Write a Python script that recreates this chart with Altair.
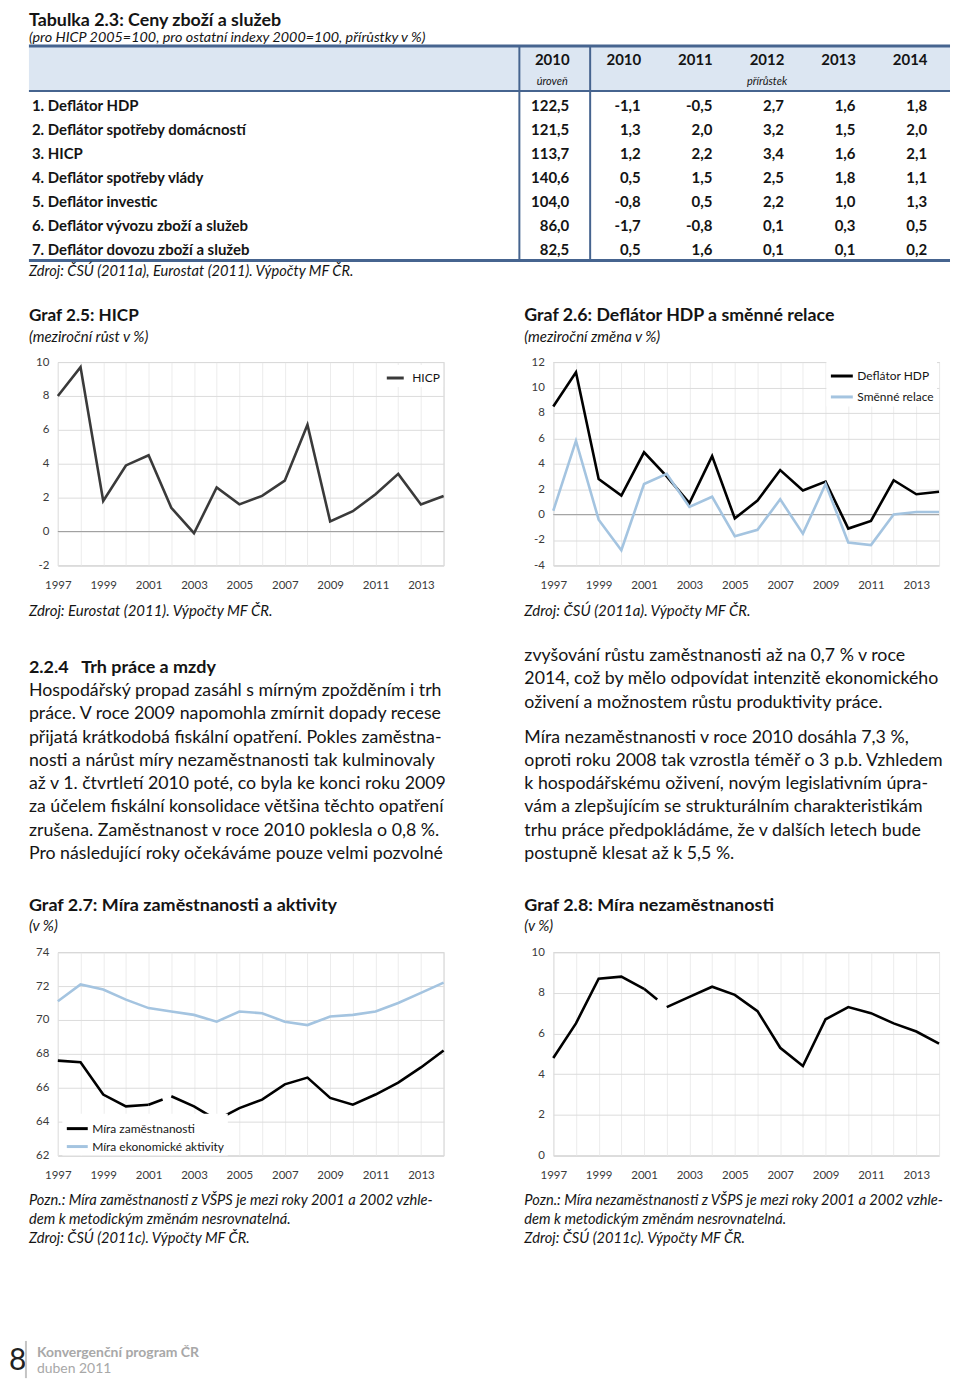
import altair as alt
import pandas as pd

FONT = "Lato"
INK = "#141414"
AXIS_INK = "#3a3a3a"
GRID_H = "#dcdcdc"
GRID_V = "#ececec"
FRAME = "#bdbdbd"
BLUE = "#a4c4e0"
TABLE_LINE = "#46648f"
HEADER_FILL = "#dce6f2"
FOOT = "#a8a8a8"

# ====================== DATA ======================
table_title = "Tabulka 2.3: Ceny zboží a služeb"
table_subtitle = "(pro HICP 2005=100, pro ostatní indexy 2000=100, přírůstky v %)"
table_source = "Zdroj: ČSÚ (2011a), Eurostat (2011). Výpočty MF ČR."
table_rows = ["1. Deflátor HDP", "2. Deflátor spotřeby domácností", "3. HICP",
              "4. Deflátor spotřeby vlády", "5. Deflátor investic",
              "6. Deflátor vývozu zboží a služeb", "7. Deflátor dovozu zboží a služeb"]
table_col_keys = ["lvl2010", "g2010", "g2011", "g2012", "g2013", "g2014"]
table_col_years = ["2010", "2010", "2011", "2012", "2013", "2014"]
table_sub_keys = ["lvl2010", "g2012"]
table_sub_labels = ["úroveň", "přírůstek"]
level_2010 = [122.5, 121.5, 113.7, 140.6, 104.0, 86.0, 82.5]
growth_2010 = [-1.1, 1.3, 1.2, 0.5, -0.8, -1.7, 0.5]
growth_2011 = [-0.5, 2.0, 2.2, 1.5, 0.5, -0.8, 1.6]
growth_2012 = [2.7, 3.2, 3.4, 2.5, 2.2, 0.1, 0.1]
growth_2013 = [1.6, 1.5, 1.6, 1.8, 1.0, 0.3, 0.1]
growth_2014 = [1.8, 2.0, 2.1, 1.1, 1.3, 0.5, 0.2]

years = list(range(1997, 2015))
years_old = list(range(1997, 2002))
years_new = list(range(2002, 2015))

g25_title = "Graf 2.5: HICP"
g25_subtitle = "(meziroční růst v %)"
g25_source = "Zdroj: Eurostat (2011). Výpočty MF ČR."
hicp = [8.0, 9.7, 1.8, 3.9, 4.5, 1.4, -0.1, 2.6, 1.6, 2.1, 3.0, 6.3, 0.6, 1.2, 2.2, 3.4, 1.6, 2.1]

g26_title = "Graf 2.6: Deflátor HDP a směnné relace"
g26_subtitle = "(meziroční změna v %)"
g26_source = "Zdroj: ČSÚ (2011a). Výpočty MF ČR."
deflator_hdp = [8.5, 11.2, 2.8, 1.5, 4.9, 3.0, 0.9, 4.6, -0.3, 1.1, 3.5, 1.9, 2.6, -1.1, -0.5, 2.7, 1.6, 1.8]
smenne_relace = [0.3, 5.8, -0.4, -2.8, 2.4, 3.2, 0.6, 1.4, -1.7, -1.2, 1.2, -1.5, 2.4, -2.2, -2.4, 0.0, 0.2, 0.2]

g27_title = "Graf 2.7: Míra zaměstnanosti a aktivity"
g27_subtitle = "(v %)"
g27_note = ["Pozn.: Míra zaměstnanosti z VŠPS je mezi roky 2001 a 2002 vzhle-",
            "dem k metodickým změnám nesrovnatelná.",
            "Zdroj: ČSÚ (2011c). Výpočty MF ČR."]
zamestnanost_old = [67.6, 67.5, 65.6, 64.9, 65.0]
zamestnanost_new = [65.5, 64.9, 64.1, 64.8, 65.3, 66.2, 66.6, 65.4, 65.0, 65.6, 66.3, 67.2, 68.2]
aktivita = [71.1, 72.1, 71.8, 71.2, 70.7, 70.5, 70.3, 69.9, 70.5, 70.4, 69.9, 69.7, 70.2, 70.3, 70.5, 71.0, 71.6, 72.2]

g28_title = "Graf 2.8: Míra nezaměstnanosti"
g28_subtitle = "(v %)"
g28_note = ["Pozn.: Míra nezaměstnanosti z VŠPS je mezi roky 2001 a 2002 vzhle-",
            "dem k metodickým změnám nesrovnatelná.",
            "Zdroj: ČSÚ (2011c). Výpočty MF ČR."]
nezamestnanost_old = [4.8, 6.5, 8.7, 8.8, 8.2]
nezamestnanost_new = [7.3, 7.8, 8.3, 7.9, 7.1, 5.3, 4.4, 6.7, 7.3, 7.0, 6.5, 6.1, 5.5]

section_heading = "2.2.4\u00a0\u00a0\u00a0Trh práce a mzdy"
left_text = [
    "Hospodářský propad zasáhl s mírným zpožděním i trh",
    "práce. V roce 2009 napomohla zmírnit dopady recese",
    "přijatá krátkodobá fiskální opatření. Pokles zaměstna-",
    "nosti a nárůst míry nezaměstnanosti tak kulminovaly",
    "až v 1. čtvrtletí 2010 poté, co byla ke konci roku 2009",
    "za účelem fiskální konsolidace většina těchto opatření",
    "zrušena. Zaměstnanost v roce 2010 poklesla o 0,8 %.",
    "Pro následující roky očekáváme pouze velmi pozvolné",
]
right_par1 = [
    "zvyšování růstu zaměstnanosti až na 0,7 % v roce",
    "2014, což by mělo odpovídat intenzitě ekonomického",
    "oživení a možnostem růstu produktivity práce.",
]
right_par2 = [
    "Míra nezaměstnanosti v roce 2010 dosáhla 7,3 %,",
    "oproti roku 2008 tak vzrostla téměř o 3 p.b. Vzhledem",
    "k hospodářskému oživení, novým legislativním úpra-",
    "vám a zlepšujícím se strukturálním charakteristikám",
    "trhu práce předpokládáme, že v dalších letech bude",
    "postupně klesat až k 5,5 %.",
]
footer_page = "8"
footer_title = "Konvergenční program ČR"
footer_date = "duben 2011"

# ====================== HELPERS ======================
ONE = pd.DataFrame({"t": [""]})
PW, PH = 387, 204
LW, MW = 48.5, 109.5
H1, H3 = 352, 387.7
H5 = 1371 - (H1 + PH + H3 + PH)
ITAL = 15
BODY = 17.8
NOTE = 14.7


def label(text, x, y, size=14, weight="normal", style="normal", color=INK,
          align="left", baseline="middle"):
    return alt.Chart(pd.DataFrame({"t": [text]})).mark_text(
        align=align, baseline=baseline, font=FONT, fontSize=size,
        fontWeight=weight, fontStyle=style, color=color
    ).encode(x=alt.value(x), y=alt.value(y), text="t:N")


def hrule(x1, x2, y, width, color):
    return alt.Chart(ONE).mark_rule(color=color, strokeWidth=width).encode(
        x=alt.value(x1), x2=alt.value(x2), y=alt.value(y))


def vrule(x, y1, y2, width, color):
    return alt.Chart(ONE).mark_rule(color=color, strokeWidth=width).encode(
        x=alt.value(x), y=alt.value(y1), y2=alt.value(y2))


def spacer(w, h):
    return alt.Chart(ONE).mark_point(opacity=0).properties(width=w, height=h)


def x_enc():
    return alt.X("year:Q", scale=alt.Scale(domain=[1997, 2014], nice=False, zero=False),
                 axis=alt.Axis(values=years, grid=True, gridColor=GRID_V, gridWidth=1,
                               ticks=False, domain=False,
                               labelExpr="datum.value % 2 == 1 ? toString(datum.value) : ''",
                               labelFont=FONT, labelFontSize=11.5, labelColor=AXIS_INK,
                               labelPadding=14, labelOverlap=False, labelFlush=False,
                               title=None))


def y_enc(field, lo, hi):
    return alt.Y(f"{field}:Q", scale=alt.Scale(domain=[lo, hi], nice=False, zero=False),
                 axis=alt.Axis(values=list(range(lo, hi + 1, 2)), grid=True, gridColor=GRID_H,
                               ticks=False, domain=False, labelExpr="toString(datum.value)",
                               labelFont=FONT, labelFontSize=11.5, labelColor=AXIS_INK,
                               labelPadding=9, labelFlush=False, labelOverlap=False,
                               title=None))


def leg(x, y, sym, offset, rowpad):
    return alt.Legend(title=None, orient="none", legendX=x, legendY=y, symbolType="stroke",
                      symbolSize=sym * sym, symbolStrokeWidth=3, labelFont=FONT,
                      labelFontSize=12, labelColor=INK, labelOffset=offset,
                      rowPadding=rowpad, fillColor="white", padding=3)


FRAME_VIEW = alt.ViewBackground(stroke=FRAME, strokeWidth=1)

# ====================== ROW A: table (drawn from a narrow anchor cell) ======================
cells = []
for key, vals in zip(table_col_keys, [level_2010, growth_2010, growth_2011,
                                      growth_2012, growth_2013, growth_2014]):
    for lab, v in zip(table_rows, vals):
        cells.append({"col": key, "row": lab, "txt": f"{v:.1f}".replace(".", ",")})
cells_df = pd.DataFrame(cells)
head_df = pd.DataFrame({"col": table_col_keys, "txt": table_col_years})
sub_df = pd.DataFrame({"col": table_sub_keys, "txt": table_sub_labels})
rows_df = pd.DataFrame({"row": table_rows})

col_x = alt.X("col:N", scale=alt.Scale(type="point", domain=table_col_keys,
                                       range=[545, 904], padding=0), axis=None)
row_y = alt.Y("row:N", scale=alt.Scale(type="point", domain=table_rows,
                                       range=[95, 240], padding=0), axis=None)

canvasA = alt.layer(
    label(table_title, 20, 14.5, size=17.9, weight="bold", baseline="alphabetic"),
    label(table_subtitle, 20, 26.5, size=14.4, style="italic"),
    alt.Chart(ONE).mark_rect(color=HEADER_FILL).encode(
        x=alt.value(20), x2=alt.value(944), y=alt.value(36), y2=alt.value(80)),
    hrule(20, 944, 35, 3, TABLE_LINE),
    hrule(20, 944, 80, 2, TABLE_LINE),
    hrule(20, 944, 250, 3, TABLE_LINE),
    vrule(512, 35, 250, 2, TABLE_LINE),
    vrule(583, 35, 250, 2, TABLE_LINE),
    alt.Chart(head_df).mark_text(font=FONT, fontSize=15, fontWeight="bold", color=INK,
                                 align="center", baseline="middle").encode(
        x=col_x, y=alt.value(49), text="txt:N"),
    alt.Chart(sub_df).mark_text(font=FONT, fontSize=11, fontStyle="italic", color=INK,
                                align="center", baseline="middle").encode(
        x=col_x, y=alt.value(71), text="txt:N"),
    alt.Chart(rows_df).mark_text(font=FONT, fontSize=15, fontWeight="bold", color=INK,
                                 align="left", baseline="middle").encode(
        x=alt.value(23), y=row_y, text="row:N"),
    alt.Chart(cells_df).mark_text(font=FONT, fontSize=15, fontWeight="bold", color=INK,
                                  align="right", baseline="middle", dx=17).encode(
        x=col_x, y=row_y, text="txt:N"),
    label(table_source, 20, 262, size=14.7, style="italic"),
    label(g25_title, 20, 306, size=17.2, weight="bold"),
    label(g25_subtitle, 20, 327, size=ITAL, style="italic"),
    label(g26_title, 517, 306, size=17.8, weight="bold"),
    label(g26_subtitle, 517, 327, size=ITAL, style="italic"),
).properties(width=LW, height=H1)

# ====================== ROW B: charts 2.5, 2.6 ======================
d25 = pd.DataFrame({"year": years, "value": hicp, "series": "HICP"})
ch25 = alt.layer(
    alt.Chart(pd.DataFrame({"value": [0]})).mark_rule(color="#a0a0a0", strokeWidth=1).encode(
        y=y_enc("value", -2, 10)),
    alt.Chart(d25).mark_line(strokeWidth=2.6).encode(
        x=x_enc(), y=y_enc("value", -2, 10),
        color=alt.Color("series:N", scale=alt.Scale(domain=["HICP"], range=["#3a3a3a"]),
                        legend=leg(325.5, 3, 17, 7, 0))),
).properties(width=PW, height=PH, view=FRAME_VIEW)

s26 = ["Deflátor HDP", "Směnné relace"]
d26 = pd.concat([
    pd.DataFrame({"year": years, "value": deflator_hdp, "series": s26[0]}),
    pd.DataFrame({"year": years, "value": smenne_relace, "series": s26[1]}),
])
ch26 = alt.layer(
    alt.Chart(pd.DataFrame({"value": [0]})).mark_rule(color="#a0a0a0", strokeWidth=1).encode(
        y=y_enc("value", -4, 12)),
    alt.Chart(d26).mark_line(strokeWidth=2.6).encode(
        x=x_enc(), y=y_enc("value", -4, 12),
        color=alt.Color("series:N", scale=alt.Scale(domain=s26, range=["#000000", BLUE]),
                        sort=s26, legend=leg(274, -1.5, 22, 3, 2))),
).properties(width=PW, height=PH, view=FRAME_VIEW)

# ====================== ROW C: text ======================
left_df = pd.DataFrame({"t": left_text, "pos": [i + 1.5 for i in range(len(left_text))]})
right_df = pd.DataFrame({
    "t": right_par1 + right_par2,
    "pos": [float(i) for i in range(len(right_par1))]
           + [len(right_par1) + 0.5 + i for i in range(len(right_par2))]})
head_pos = pd.DataFrame({"t": [section_heading], "pos": [0.5]})
line_y = alt.Y("pos:Q", scale=alt.Scale(domain=[0, 8.5], range=[91, 289.5]), axis=None)

canvasC = alt.layer(
    label(g25_source, 20, 46, size=ITAL, style="italic"),
    label(g26_source, 517, 46, size=ITAL, style="italic"),
    alt.Chart(head_pos).mark_text(font=FONT, fontSize=18, fontWeight="bold", color=INK,
                                  align="left", baseline="middle").encode(
        x=alt.value(20), y=line_y, text="t:N"),
    alt.Chart(left_df).mark_text(font=FONT, fontSize=BODY, color=INK, align="left",
                                 baseline="middle").encode(
        x=alt.value(20), y=line_y, text="t:N"),
    alt.Chart(right_df).mark_text(font=FONT, fontSize=BODY, color=INK, align="left",
                                  baseline="middle").encode(
        x=alt.value(517), y=line_y, text="t:N"),
    label(g27_title, 20, 342, size=18, weight="bold"),
    label(g27_subtitle, 20, 362, size=ITAL, style="italic"),
    label(g28_title, 517, 342, size=18, weight="bold"),
    label(g28_subtitle, 517, 362, size=ITAL, style="italic"),
).properties(width=LW, height=H3)

# ====================== ROW D: charts 2.7, 2.8 ======================
s27 = ["Míra zaměstnanosti", "Míra ekonomické aktivity"]
d27 = pd.concat([
    pd.DataFrame({"year": years_old, "value": zamestnanost_old, "series": s27[0], "seg": "a"}),
    pd.DataFrame({"year": years_new, "value": zamestnanost_new, "series": s27[0], "seg": "b"}),
    pd.DataFrame({"year": years, "value": aktivita, "series": s27[1], "seg": "c"}),
])
bridge27 = pd.DataFrame({"year": [years_old[-1], years_new[0]],
                         "value": [zamestnanost_old[-1], zamestnanost_new[0]]})
ch27 = alt.layer(
    alt.Chart(d27).mark_line(strokeWidth=2.6).encode(
        x=x_enc(), y=y_enc("value", 62, 74), detail="seg:N",
        color=alt.Color("series:N", scale=alt.Scale(domain=s27, range=["#000000", BLUE]),
                        sort=s27, legend=leg(4.5, 162, 21, 3, 0))),
    alt.Chart(bridge27).mark_line(strokeWidth=2.6, color="#000000", strokeDash=[15, 80]).encode(
        x=x_enc(), y=y_enc("value", 62, 74)),
).properties(width=PW, height=PH, view=FRAME_VIEW)

d28 = pd.concat([
    pd.DataFrame({"year": years_old, "value": nezamestnanost_old, "seg": "a"}),
    pd.DataFrame({"year": years_new, "value": nezamestnanost_new, "seg": "b"}),
])
bridge28 = pd.DataFrame({"year": [years_old[-1], years_new[0]],
                         "value": [nezamestnanost_old[-1], nezamestnanost_new[0]]})
ch28 = alt.layer(
    alt.Chart(d28).mark_line(strokeWidth=2.6, color="#000000").encode(
        x=x_enc(), y=y_enc("value", 0, 10), detail="seg:N"),
    alt.Chart(bridge28).mark_line(strokeWidth=2.6, color="#000000", strokeDash=[17, 80]).encode(
        x=x_enc(), y=y_enc("value", 0, 10)),
).properties(width=PW, height=PH, view=FRAME_VIEW)

# ====================== ROW E: notes + footer ======================
canvasE = alt.layer(
    label(g27_note[0], 20, 45.3, size=NOTE, style="italic"),
    label(g27_note[1], 20, 64.3, size=NOTE, style="italic"),
    label(g27_note[2], 20, 83.3, size=NOTE, style="italic"),
    label(g28_note[0], 517, 45.3, size=NOTE, style="italic"),
    label(g28_note[1], 517, 64.3, size=NOTE, style="italic"),
    label(g28_note[2], 517, 83.3, size=NOTE, style="italic"),
    label(footer_page, 0, 206, size=30, color="#222222"),
    vrule(17, 186, H5, 2, "#c4c4c4"),
    label(footer_title, 28, 198, size=14, weight="bold", color=FOOT),
    label(footer_date, 28, 214, size=14, color=FOOT),
).properties(width=LW, height=H5)

grid = [
    canvasA, spacer(PW, H1), spacer(MW, H1), spacer(PW, H1),
    spacer(LW, PH), ch25, spacer(MW, PH), ch26,
    canvasC, spacer(PW, H3), spacer(MW, H3), spacer(PW, H3),
    spacer(LW, PH), ch27, spacer(MW, PH), ch28,
    canvasE, spacer(PW, H5), spacer(MW, H5), spacer(PW, H5),
]

chart = alt.concat(*grid, columns=4, spacing=0, bounds="flush").resolve_scale(
    color="independent"
).properties(padding=0).configure_view(stroke="transparent")

chart.save("out.html", embed_options={"renderer": "svg", "actions": False})
